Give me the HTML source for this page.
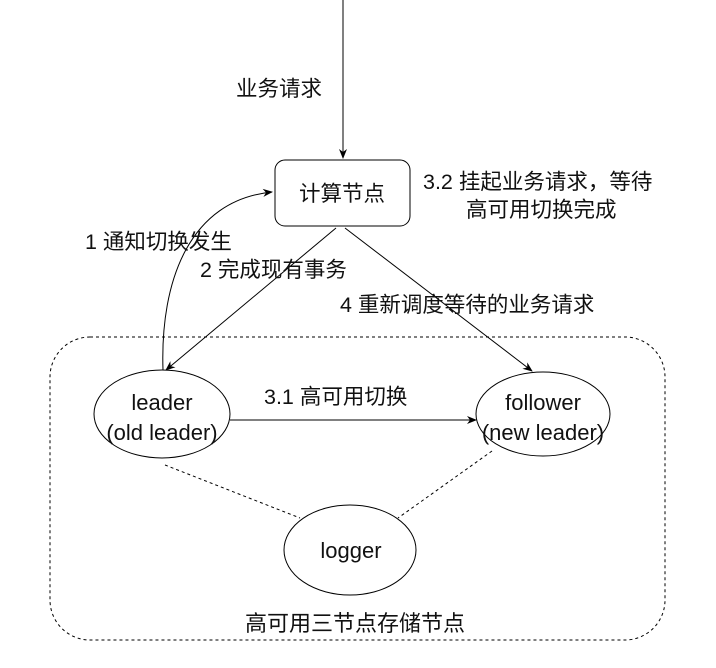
<!DOCTYPE html>
<html><head><meta charset="utf-8"><style>
html,body{margin:0;padding:0;background:#fff;}
svg text{font-family:"Liberation Sans","Noto Sans CJK SC",sans-serif;font-size:21.5px;fill:#111;}
</style></head><body>
<svg width="716" height="663" viewBox="0 0 716 663" xmlns="http://www.w3.org/2000/svg">
<defs><marker id="a" markerWidth="10" markerHeight="10" refX="9" refY="5" orient="auto" markerUnits="userSpaceOnUse"><path d="M0,1 L10,5 L0,9 L3,5 Z" fill="#000"/></marker></defs>
<rect x="50" y="337" width="615" height="303" rx="40" fill="none" stroke="#000" stroke-dasharray="3,3"/>
<line x1="343" y1="0" x2="343" y2="158" stroke="#000" marker-end="url(#a)"/>
<text x="236" y="96">业务请求</text>
<rect x="275" y="160" width="135" height="66" rx="10" fill="#fff" stroke="#000"/>
<text x="342" y="201" text-anchor="middle">计算节点</text>
<path d="M163,370 C160,280 190,200 272,192" fill="none" stroke="#000" marker-end="url(#a)"/>
<line x1="336" y1="228" x2="166" y2="370" stroke="#000" marker-end="url(#a)"/>
<line x1="345" y1="228" x2="532" y2="371" stroke="#000" marker-end="url(#a)"/>
<line x1="230" y1="420" x2="476" y2="420" stroke="#000" marker-end="url(#a)"/>
<line x1="165" y1="465" x2="300" y2="518" stroke="#000" stroke-dasharray="3,3"/>
<line x1="492" y1="451" x2="398" y2="518" stroke="#000" stroke-dasharray="3,3"/>
<ellipse cx="162" cy="414" rx="68" ry="44" fill="#fff" stroke="#000"/>
<ellipse cx="543" cy="414" rx="67" ry="42" fill="#fff" stroke="#000"/>
<ellipse cx="350" cy="550" rx="66" ry="45" fill="#fff" stroke="#000"/>
<g style="font-size:22px">
<text x="162" y="410" text-anchor="middle" style="font-size:22px">leader</text>
<text x="162" y="440" text-anchor="middle" style="font-size:22px">(old leader)</text>
<text x="543" y="410" text-anchor="middle" style="font-size:22px">follower</text>
<text x="543" y="440" text-anchor="middle" style="font-size:22px">(new leader)</text>
<text x="351" y="558" text-anchor="middle" style="font-size:22px">logger</text>
</g>
<text x="85" y="249">1 通知切换发生</text>
<text x="200" y="277">2 完成现有事务</text>
<text x="340" y="312">4 重新调度等待的业务请求</text>
<text x="423" y="189">3.2 挂起业务请求，等待</text>
<text x="466" y="217">高可用切换完成</text>
<text x="264" y="404">3.1 高可用切换</text>
<text x="355" y="631" text-anchor="middle" style="font-size:22px">高可用三节点存储节点</text>
</svg>
</body></html>
